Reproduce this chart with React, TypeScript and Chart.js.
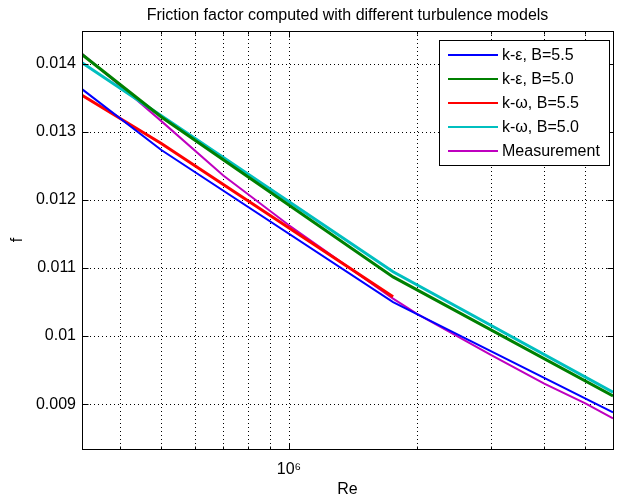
import React, { useEffect, useRef } from "react";
import { Chart, registerables } from "chart.js";

Chart.register(...registerables);

const chartTitle = "Friction factor computed with different turbulence models";
const xAxisLabel = "Re";
const yAxisLabel = "f";

const seriesLabels = ["k-ε, B=5.5", "k-ε, B=5.0", "k-ω, B=5.5", "k-ω, B=5.0", "Measurement"];
const seriesColors = ["#0000ff", "#008000", "#ff0000", "#00bfbf", "#bf00bf"];
const seriesWidths = [2, 3, 3, 3, 2];

const reKeB55 = [3.25e5, 5e5, 1.76e6, 5.81e6];
const fKeB55 = [0.01363, 0.012735, 0.0105, 0.00888];
const reKeB50 = [3.25e5, 5e5, 1.76e6, 5.81e6];
const fKeB50 = [0.01414, 0.01322, 0.01087, 0.00912];
const reKwB55 = [3.25e5, 5e5, 1.76e6];
const fKwB55 = [0.01354, 0.01283, 0.01058];
const reKwB50 = [3.25e5, 5e5, 1.76e6, 5.81e6];
const fKwB50 = [0.01402, 0.01324, 0.010946, 0.009176];
const reMeas = [3.25e5, 4e5, 5e5, 7e5, 1e6, 1.76e6, 2e6, 3e6, 4e6, 5e6, 5.81e6];
const fMeas = [0.01415, 0.01368, 0.01316, 0.01236, 0.01163, 0.01055, 0.01033, 0.00972, 0.0093, 0.00901, 0.00879];

const seriesRe = [reKeB55, reKeB50, reKwB55, reKwB50, reMeas];
const seriesF = [fKeB55, fKeB50, fKwB55, fKwB50, fMeas];

const xMin = 3.25e5;
const xMax = 5.81e6;
const yMin = 0.00834;
const yMax = 0.014485;
const xGridValues = [4e5, 5e5, 6e5, 7e5, 8e5, 9e5, 1e6, 2e6, 3e6, 4e6, 5e6];
const xMajorValues = [1e6];
const xMajorLabels = ["10⁶"];
const yTickValues = [0.009, 0.01, 0.011, 0.012, 0.013, 0.014];
const yTickLabels = ["0.009", "0.01", "0.011", "0.012", "0.013", "0.014"];

const FONT = "'Liberation Sans', Arial, Helvetica, sans-serif";

const matlabPlugin = {
  id: "matlabLook",
  beforeDatasetsDraw(chart: any) {
    const { ctx, chartArea: a, scales } = chart;
    const x = scales.x;
    const y = scales.y;
    ctx.save();
    ctx.strokeStyle = "#000";
    ctx.lineWidth = 1;
    ctx.setLineDash([1, 3]);
    for (const v of xGridValues) {
      const px = Math.round(x.getPixelForValue(v)) + 0.5;
      ctx.beginPath();
      ctx.moveTo(px, a.top);
      ctx.lineTo(px, a.bottom);
      ctx.stroke();
    }
    for (const v of yTickValues) {
      const py = Math.round(y.getPixelForValue(v)) + 0.5;
      ctx.beginPath();
      ctx.moveTo(a.left, py);
      ctx.lineTo(a.right, py);
      ctx.stroke();
    }
    ctx.restore();
  },
  afterDatasetsDraw(chart: any) {
    const { ctx, chartArea: a, scales } = chart;
    const x = scales.x;
    const y = scales.y;
    const L = Math.round(a.left) + 0.5;
    const R = Math.round(a.right) + 0.5;
    const T = Math.round(a.top) + 0.5;
    const B = Math.round(a.bottom) + 0.5;
    ctx.save();
    ctx.setLineDash([]);
    ctx.strokeStyle = "#000";
    ctx.lineWidth = 1;
    for (const v of xGridValues) {
      const px = Math.round(x.getPixelForValue(v)) + 0.5;
      const len = xMajorValues.includes(v) ? 6 : 3;
      ctx.beginPath();
      ctx.moveTo(px, B);
      ctx.lineTo(px, B - len);
      ctx.moveTo(px, T);
      ctx.lineTo(px, T + len);
      ctx.stroke();
    }
    for (const v of yTickValues) {
      const py = Math.round(y.getPixelForValue(v)) + 0.5;
      ctx.beginPath();
      ctx.moveTo(L, py);
      ctx.lineTo(L + 6, py);
      ctx.moveTo(R, py);
      ctx.lineTo(R - 6, py);
      ctx.stroke();
    }
    ctx.strokeRect(L, T, R - L, B - T);

    const lx = 439.5;
    const ly = 40.5;
    const lw = 170;
    const lh = 125;
    ctx.fillStyle = "#fff";
    ctx.fillRect(lx, ly, lw, lh);
    ctx.strokeRect(lx, ly, lw, lh);
    ctx.font = `16px ${FONT}`;
    ctx.textBaseline = "middle";
    ctx.textAlign = "left";
    chart.data.datasets.forEach((ds: any, i: number) => {
      const ry = 55 + i * 24;
      ctx.strokeStyle = ds.borderColor;
      ctx.lineWidth = 2;
      ctx.beginPath();
      ctx.moveTo(448, ry);
      ctx.lineTo(498, ry);
      ctx.stroke();
      ctx.fillStyle = "#000";
      ctx.fillText(ds.label, 502, ry + 1);
    });
    ctx.restore();
  },
};

export default function App() {
  const canvasRef = useRef<HTMLCanvasElement | null>(null);

  useEffect(() => {
    if (!canvasRef.current) return;
    const datasets = seriesLabels.map((label, i) => ({
      label,
      data: seriesRe[i].map((re, j) => ({ x: re, y: seriesF[i][j] })),
      borderColor: seriesColors[i],
      backgroundColor: seriesColors[i],
      borderWidth: seriesWidths[i],
      pointRadius: 0,
      tension: 0,
      fill: false,
    }));
    const chart = new Chart(canvasRef.current, {
      type: "line",
      data: { datasets },
      plugins: [matlabPlugin],
      options: {
        responsive: false,
        animation: false,
        devicePixelRatio: 1,
        layout: { padding: { left: 0, right: 4, top: 0, bottom: 0 } },
        plugins: {
          legend: { display: false },
          tooltip: { enabled: false },
          title: {
            display: true,
            fullSize: false,
            text: chartTitle,
            color: "#000",
            font: { family: FONT, size: 16, weight: "normal" },
            padding: { top: 6, bottom: 5.8 },
          },
        },
        scales: {
          x: {
            type: "logarithmic",
            min: xMin,
            max: xMax,
            grid: { display: false, drawTicks: false, tickLength: 0 },
            border: { display: false },
            afterBuildTicks: (s: any) => {
              s.ticks = xGridValues.map((v) => ({ value: v }));
            },
            afterFit: (s: any) => {
              s.height = 50;
            },
            ticks: {
              autoSkip: false,
              maxRotation: 0,
              minRotation: 0,
              color: "#000",
              padding: 11,
              font: { family: FONT, size: 16 },
              callback: (v: any) => {
                const k = xMajorValues.indexOf(Number(v));
                return k >= 0 ? xMajorLabels[k] : "";
              },
            },
            title: {
              display: true,
              text: xAxisLabel,
              color: "#000",
              font: { family: FONT, size: 16 },
              padding: { top: 0, bottom: 0 },
            },
          },
          y: {
            type: "linear",
            min: yMin,
            max: yMax,
            grid: { display: false, drawTicks: false, tickLength: 0 },
            border: { display: false },
            afterBuildTicks: (s: any) => {
              s.ticks = yTickValues.map((v) => ({ value: v }));
            },
            afterFit: (s: any) => {
              s.width = 82;
            },
            ticks: {
              autoSkip: false,
              color: "#000",
              padding: 6,
              font: { family: FONT, size: 16 },
              callback: (_v: any, i: number) => yTickLabels[i],
            },
            title: {
              display: true,
              text: yAxisLabel,
              color: "#000",
              font: { family: FONT, size: 16 },
              padding: { top: 8, bottom: 0 },
            },
          },
        },
      },
    } as any);
    return () => chart.destroy();
  }, []);

  return (
    <div style={{ position: "absolute", left: 0, top: 0, width: 617, height: 499 }}>
      <canvas ref={canvasRef} width={617} height={499} style={{ display: "block" }} />
    </div>
  );
}
